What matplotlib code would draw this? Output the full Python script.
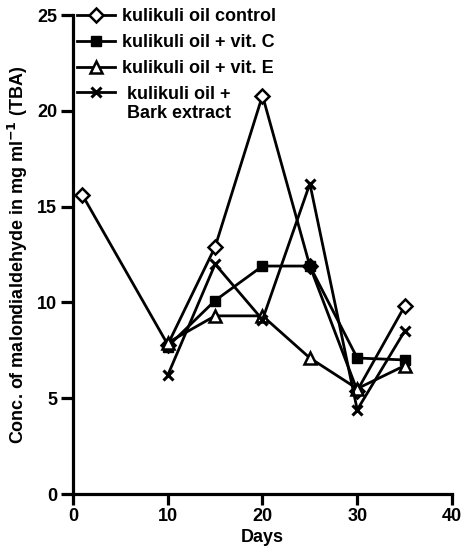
import matplotlib
matplotlib.use("Agg")
import matplotlib.pyplot as plt

plt.rcParams['font.family'] = ['Liberation Sans', 'DejaVu Sans']
plt.rcParams['font.weight'] = 'bold'

days_control = [1, 10, 15, 20, 25, 30, 35]
control = [15.6, 7.8, 12.9, 20.8, 11.9, 5.4, 9.8]
days = [10, 15, 20, 25, 30, 35]
vit_c = [7.7, 10.1, 11.9, 11.9, 7.1, 7.0]
vit_e = [7.9, 9.3, 9.3, 7.1, 5.5, 6.7]
bark = [6.2, 12.0, 9.1, 16.2, 4.4, 8.5]

labels = ["kulikuli oil control", "kulikuli oil + vit. C",
          "kulikuli oil + vit. E", " kulikuli oil +"]
label_extra = " Bark extract"
xticks = [0, 10, 20, 30, 40]
yticks = [0, 5, 10, 15, 20, 25]

fig = plt.figure(figsize=(4.65, 5.57), dpi=100)
ax = fig.add_axes([0.157, 0.113, 0.815, 0.86])

lw = 2.0
ax.plot(days_control, control, color='black', lw=lw, marker='D', ms=6.8,
        mfc='white', mec='black', mew=1.8, label=labels[0], zorder=3)
ax.plot(days, vit_c, color='black', lw=lw, marker='s', ms=7.5,
        mfc='black', mec='black', label=labels[1], zorder=3)
ax.plot(days, vit_e, color='black', lw=lw, marker='^', ms=8,
        mfc='white', mec='black', mew=1.8, label=labels[2], zorder=3)
ax.plot(days, bark, color='black', lw=lw, marker='x', ms=7.5,
        mec='black', mew=2.2, label=labels[3], zorder=3)

ax.set_xlim(0, 40)
ax.set_ylim(0, 25)
ax.set_xticks(xticks)
ax.set_yticks(yticks)
for s in ['top', 'right']:
    ax.spines[s].set_visible(False)
for s in ['left', 'bottom']:
    ax.spines[s].set_linewidth(2.3)
ax.tick_params(axis='y', direction='out', length=8.5, width=2.3,
               labelsize=13, pad=3)
ax.tick_params(axis='x', direction='out', length=8, width=2.3,
               labelsize=13, pad=2)
ax.set_xlabel("Days", fontsize=13, fontweight='bold', labelpad=3)
ax.set_ylabel("Conc. of malondialdehyde in mg ml$^{\\mathbf{-1}}$ (TBA)",
              fontsize=13, fontweight='bold', labelpad=5)

leg = ax.legend(loc='upper left', bbox_to_anchor=(-0.018, 1.037), frameon=False,
                fontsize=13, handlelength=2.1, handletextpad=0.4,
                labelspacing=0.49, borderaxespad=0.2)
for t in leg.get_texts():
    t.set_fontweight('bold')

fig.canvas.draw()
last = leg.get_texts()[-1]
bb = last.get_window_extent()
inv = fig.transFigure.inverted()
x0, y0 = inv.transform((bb.x0, bb.y0))
fig.text(x0, y0 - 2 / 557, label_extra, fontsize=13, fontweight='bold',
         ha='left', va='top', transform=fig.transFigure)

fig.savefig("out.png", dpi=100)
